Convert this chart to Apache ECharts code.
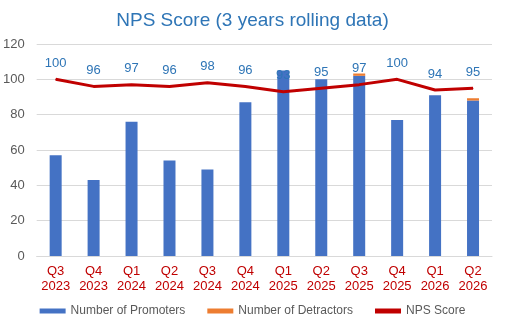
<!DOCTYPE html>
<html>
<head>
<meta charset="utf-8">
<script src="https://cdn.jsdelivr.net/npm/echarts@6/dist/echarts.min.js"></script>
<style>html,body{margin:0;padding:0;background:#fff;}#c{width:505px;height:328px;}</style>
</head>
<body>
<div id="c"></div>
<script>
var categories = ['Q3\n2023','Q4\n2023','Q1\n2024','Q2\n2024','Q3\n2024','Q4\n2024','Q1\n2025','Q2\n2025','Q3\n2025','Q4\n2025','Q1\n2026','Q2\n2026'];
var promoters = [57, 43, 76, 54, 49, 87, 105, 100, 102, 77, 91, 88];
var detractors = [0, 0, 0, 0, 0, 0, 0, 0, 1.3, 0, 0, 1.3];
var npsScore = [100, 96, 97, 96, 98, 96, 93, 95, 97, 100, 94, 95];
var yTicks = [0, 20, 40, 60, 80, 100, 120];

var chart = echarts.init(document.getElementById('c'), null, {renderer: 'canvas'});
chart.setOption({
  animation: false,
  backgroundColor: '#fff',
  textStyle: {fontFamily: 'Liberation Sans, Arial, sans-serif'},
  title: {
    text: 'NPS Score (3 years rolling data)',
    left: 'center', top: 6,
    textStyle: {color: '#2E75B6', fontSize: 19, fontWeight: 'normal', fontFamily: 'Liberation Sans, Arial, sans-serif'}
  },
  grid: {left: 35, right: 13, top: 44, bottom: 72, containLabel: false},
  legend: {
    bottom: 6, left: 'center', itemGap: 22, itemWidth: 26, itemHeight: 5,
    textStyle: {color: '#595959', fontSize: 12, fontFamily: 'Liberation Sans, Arial, sans-serif'},
    data: [
      {name: 'Number of Promoters', icon: 'rect'},
      {name: 'Number of Detractors', icon: 'rect'},
      {name: 'NPS Score', icon: 'rect', itemStyle: {color: '#C00000'}}
    ]
  },
  xAxis: {
    type: 'category', data: categories,
    axisLine: {lineStyle: {color: '#D9D9D9'}},
    axisTick: {show: false},
    axisLabel: {color: '#C00000', fontSize: 13, lineHeight: 15, margin: 8, interval: 0, fontFamily: 'Liberation Sans, Arial, sans-serif'}
  },
  yAxis: {
    type: 'value', min: yTicks[0], max: yTicks[yTicks.length-1], interval: 20,
    axisLine: {show: false}, axisTick: {show: false},
    splitLine: {lineStyle: {color: '#D9D9D9'}},
    axisLabel: {color: '#595959', fontSize: 13, margin: 12, fontFamily: 'Liberation Sans, Arial, sans-serif'}
  },
  series: [
    {name: 'Number of Promoters', type: 'bar', stack: 's', data: promoters, barWidth: 12, itemStyle: {color: '#4472C4'}},
    {name: 'Number of Detractors', type: 'bar', stack: 's', data: detractors, barWidth: 12, itemStyle: {color: '#ED7D31'}},
    {name: 'NPS Score', type: 'line', data: npsScore, symbol: 'circle', symbolSize: 1, showSymbol: true,
      lineStyle: {color: '#C00000', width: 3}, itemStyle: {color: '#C00000'}, z: 5,
      label: {show: true, position: 'top', distance: 9, color: '#2E75B6', fontSize: 13, fontFamily: 'Liberation Sans, Arial, sans-serif'}}
  ]
});
</script>
</body>
</html>
